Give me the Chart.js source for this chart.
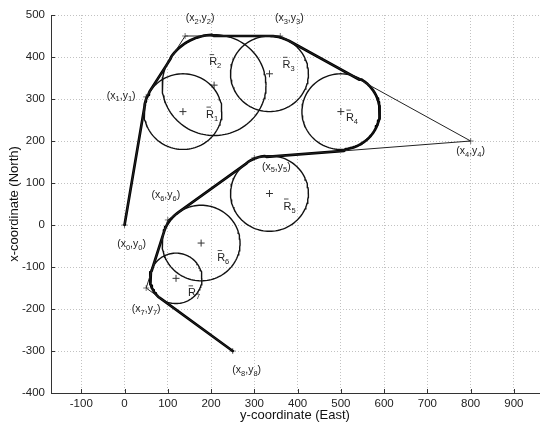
<!DOCTYPE html>
<html>
<head>
<title>Waypoint path with turning circles</title>
<script src="https://cdn.jsdelivr.net/npm/chart.js"></script>
<style>
  body { margin: 0; background: #fff; }
  #chart { display: block; }
</style>
</head>
<body>
<canvas id="chart" width="544" height="423"></canvas>
<script>
// waypoints (x0,y0) .. (x8,y8); East runs along the horizontal axis, North up the vertical one
var wpEast  = [0, 50, 140, 360, 800, 300, 100, 50, 250];
var wpNorth = [0, 305, 450, 450, 200, 160, 12, -150, -300];
var wpNames = ['0', '1', '2', '3', '4', '5', '6', '7', '8'];

// turning circles R1..R7, circle k belongs to waypoint k
var circEast   = [135, 207, 335, 500, 335, 177, 119];
var circNorth  = [270, 333, 360, 270, 75, -43, -127];
var circRadius = [90, 120, 90, 90, 90, 90, 60];
var circNames  = ['1', '2', '3', '4', '5', '6', '7'];

var eastTicks  = [-100, 0, 100, 200, 300, 400, 500, 600, 700, 800, 900];
var northTicks = [-400, -300, -200, -100, 0, 100, 200, 300, 400, 500];

// label offsets in pixels from the point they name
var wpLabelOff = [[7, 19], [-25, -1], [15, -18], [9, -18], [0, 10], [22, 9], [-2, -25], [0, 21], [14, 19]];
var circLabelOff = [[27, 3], [-1, -23], [17, -9], [9, 6], [18, 13], [20, 15], [16, 15]];

var FONT = '"Liberation Sans", Arial, Helvetica, sans-serif';

function circlePoints(k) {
  var pts = [];
  for (var a = 0; a <= 360; a += 3) {
    var t = a * Math.PI / 180;
    pts.push({ x: circEast[k] + circRadius[k] * Math.cos(t), y: circNorth[k] + circRadius[k] * Math.sin(t) });
  }
  return pts;
}

function unit(dx, dy) {
  var l = Math.sqrt(dx * dx + dy * dy);
  return [dx / l, dy / l];
}

// the flown path: straight legs between waypoints, each inner corner rounded on its circle
function flownPath() {
  var pts = [{ x: wpEast[0], y: wpNorth[0] }];
  for (var i = 1; i < wpEast.length - 1; i++) {
    var k = i - 1;
    var cx = circEast[k], cy = circNorth[k], r = circRadius[k];
    var dIn = unit(wpEast[i] - wpEast[i - 1], wpNorth[i] - wpNorth[i - 1]);
    var dOut = unit(wpEast[i + 1] - wpEast[i], wpNorth[i + 1] - wpNorth[i]);
    var tIn = (cx - wpEast[i - 1]) * dIn[0] + (cy - wpNorth[i - 1]) * dIn[1];
    var ax = wpEast[i - 1] + dIn[0] * tIn, ay = wpNorth[i - 1] + dIn[1] * tIn;
    var tOut = (cx - wpEast[i]) * dOut[0] + (cy - wpNorth[i]) * dOut[1];
    var bx = wpEast[i] + dOut[0] * tOut, by = wpNorth[i] + dOut[1] * tOut;
    var a1 = Math.atan2(ay - cy, ax - cx), a2 = Math.atan2(by - cy, bx - cx);
    var left = dIn[0] * dOut[1] - dIn[1] * dOut[0] > 0;
    var sweep = a2 - a1;
    if (left) { while (sweep < 0) sweep += 2 * Math.PI; }
    else { while (sweep > 0) sweep -= 2 * Math.PI; }
    pts.push({ x: ax, y: ay });
    var n = Math.max(2, Math.ceil(Math.abs(sweep) / 0.05));
    for (var s = 1; s < n; s++) {
      var t = a1 + sweep * s / n;
      pts.push({ x: cx + r * Math.cos(t), y: cy + r * Math.sin(t) });
    }
    pts.push({ x: bx, y: by });
  }
  pts.push({ x: wpEast[wpEast.length - 1], y: wpNorth[wpNorth.length - 1] });
  return pts;
}

var datasets = [];

// straight legs between the waypoints
datasets.push({
  data: wpEast.map(function (e, i) { return { x: e, y: wpNorth[i] }; }),
  showLine: true, borderColor: '#222', borderWidth: 1, pointRadius: 0, tension: 0
});

circEast.forEach(function (e, k) {
  datasets.push({
    data: circlePoints(k), showLine: true, borderColor: '#111',
    borderWidth: 1.4, pointRadius: 0, tension: 0
  });
});

datasets.push({
  data: flownPath(), showLine: true, borderColor: '#000', borderWidth: 2.7,
  borderJoinStyle: 'round', borderCapStyle: 'round', pointRadius: 0, tension: 0
});

datasets.push({
  data: wpEast.map(function (e, i) { return { x: e, y: wpNorth[i] }; }),
  pointStyle: 'cross', pointRadius: 3, borderColor: '#777', borderWidth: 1
});

datasets.push({
  data: circEast.map(function (e, k) { return { x: e, y: circNorth[k] }; }),
  pointStyle: 'cross', pointRadius: 3.5, borderColor: '#333', borderWidth: 1
});

function drawWpLabel(ctx, cx, cy, sub) {
  var big = '10.5px ' + FONT, small = '7.5px ' + FONT;
  var parts = [['(x', 0], [sub, 1], [',y', 0], [sub, 1], [')', 0]];
  var w = 0;
  parts.forEach(function (p) { ctx.font = p[1] ? small : big; w += ctx.measureText(p[0]).width; });
  var x = cx - w / 2;
  parts.forEach(function (p) {
    ctx.font = p[1] ? small : big;
    ctx.fillText(p[0], x, cy + (p[1] ? 3.5 : 0));
    x += ctx.measureText(p[0]).width;
  });
}

function drawCircLabel(ctx, cx, cy, sub) {
  ctx.font = '11px ' + FONT;
  var wR = ctx.measureText('R').width;
  var x = cx - wR / 2;
  ctx.fillText('R', x, cy);
  ctx.beginPath();
  ctx.moveTo(x + 0.5, cy - 7.5);
  ctx.lineTo(x + 5, cy - 7.5);
  ctx.stroke();
  ctx.font = '7.5px ' + FONT;
  ctx.fillText(sub, x + wR, cy + 4);
}

var annotate = {
  id: 'annotate',
  afterDatasetsDraw: function (chart) {
    var ctx = chart.ctx, a = chart.chartArea;
    var xs = chart.scales.x, ys = chart.scales.y;
    ctx.save();
    // tick marks pointing into the plot
    ctx.strokeStyle = '#333';
    ctx.lineWidth = 1;
    ctx.beginPath();
    eastTicks.forEach(function (v) {
      var px = Math.round(xs.getPixelForValue(v)) + 0.5;
      ctx.moveTo(px, a.bottom); ctx.lineTo(px, a.bottom - 4);
    });
    northTicks.forEach(function (v) {
      var py = Math.round(ys.getPixelForValue(v)) + 0.5;
      ctx.moveTo(a.left, py); ctx.lineTo(a.left + 4, py);
    });
    ctx.stroke();

    ctx.fillStyle = '#222';
    ctx.strokeStyle = '#222';
    ctx.lineWidth = 0.8;
    ctx.textAlign = 'left';
    ctx.textBaseline = 'middle';
    wpNames.forEach(function (n, i) {
      drawWpLabel(ctx, xs.getPixelForValue(wpEast[i]) + wpLabelOff[i][0],
        ys.getPixelForValue(wpNorth[i]) + wpLabelOff[i][1], n);
    });
    circNames.forEach(function (n, k) {
      drawCircLabel(ctx, xs.getPixelForValue(circEast[k]) + circLabelOff[k][0],
        ys.getPixelForValue(circNorth[k]) + circLabelOff[k][1], n);
    });
    ctx.restore();
  }
};

new Chart(document.getElementById('chart'), {
  type: 'scatter',
  data: { datasets: datasets },
  plugins: [annotate],
  options: {
    responsive: false,
    animation: false,
    devicePixelRatio: 1,
    layout: { padding: { top: 15, right: 0, bottom: 0, left: 0 } },
    plugins: { legend: { display: false }, tooltip: { enabled: false } },
    scales: {
      x: {
        type: 'linear', min: -170, max: 958,
        afterFit: function (s) { s.height = 30; },
        afterBuildTicks: function (s) { s.ticks = eastTicks.map(function (v) { return { value: v }; }); },
        grid: { color: '#c2c2c2', lineWidth: 1, drawTicks: false },
        border: { color: '#333', width: 1, dash: [1, 2] },
        ticks: { color: '#222', font: { family: FONT, size: 11.5 }, padding: 4, maxRotation: 0, autoSkip: false },
        title: { display: true, text: 'y-coordinate (East)', color: '#111', font: { family: FONT, size: 13 }, padding: { top: 0, bottom: 0 } }
      },
      y: {
        type: 'linear', min: -400, max: 500,
        afterFit: function (s) { s.width = 51; },
        afterBuildTicks: function (s) { s.ticks = northTicks.map(function (v) { return { value: v }; }); },
        grid: { color: '#c2c2c2', lineWidth: 1, drawTicks: false },
        border: { color: '#333', width: 1, dash: [1, 2] },
        ticks: { color: '#222', font: { family: FONT, size: 11.5 }, padding: 6, autoSkip: false },
        title: { display: true, text: 'x-coordinate (North)', color: '#111', font: { family: FONT, size: 13 }, padding: { top: 7, bottom: 0 } }
      }
    }
  }
});
</script>
</body>
</html>
